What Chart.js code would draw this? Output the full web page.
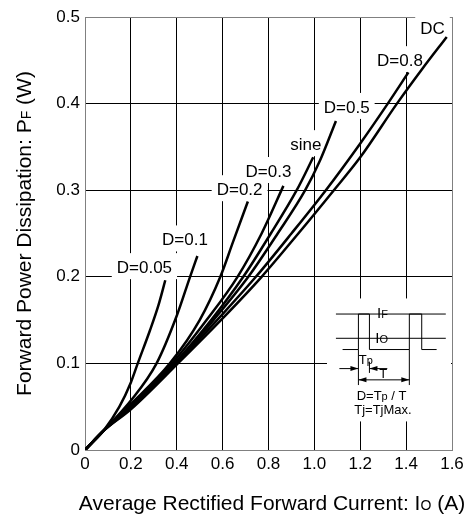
<!DOCTYPE html>
<html>
<head>
<meta charset="utf-8">
<script src="https://cdn.jsdelivr.net/npm/chart.js@4.4.1/dist/chart.umd.min.js"></script>
<style>
  body { margin: 0; background: #fff; }
  canvas { display: block; }
</style>
</head>
<body>
<canvas id="chart" width="472" height="520"></canvas>
<script>
// curve data (Io in A, Pf in W)
const curveNames = ['D=0.05', 'D=0.1', 'D=0.2', 'D=0.3', 'sine', 'D=0.5', 'D=0.8', 'DC'];
const d005X = [0, 0.08, 0.15, 0.2, 0.23, 0.283, 0.32, 0.35];
const d005Y = [0, 0.022, 0.05, 0.078, 0.1, 0.138, 0.167, 0.196];
const d01X = [0, 0.08, 0.2, 0.312, 0.4, 0.458, 0.49];
const d01Y = [0, 0.022, 0.057, 0.1, 0.155, 0.2, 0.224];
const d02X = [0, 0.08, 0.2, 0.37, 0.5, 0.59, 0.645, 0.71];
const d02Y = [0, 0.022, 0.053, 0.1, 0.15, 0.2, 0.24, 0.287];
const d03X = [0, 0.08, 0.2, 0.38, 0.53, 0.665, 0.77, 0.865];
const d03Y = [0, 0.022, 0.051, 0.1, 0.15, 0.2, 0.25, 0.305];
const sineX = [0, 0.08, 0.2, 0.39, 0.55, 0.69, 0.81, 0.923, 0.995];
const sineY = [0, 0.022, 0.05, 0.1, 0.15, 0.2, 0.25, 0.3, 0.338];
const d05X = [0, 0.08, 0.2, 0.395, 0.56, 0.712, 0.84, 0.96, 1.024, 1.094];
const d05Y = [0, 0.022, 0.05, 0.1, 0.15, 0.2, 0.25, 0.3, 0.334, 0.38];
const d08X = [0, 0.08, 0.2, 0.4, 0.6, 0.745, 0.9, 1.05, 1.2, 1.32, 1.41];
const d08Y = [0, 0.022, 0.048, 0.1, 0.157, 0.2, 0.25, 0.3, 0.354, 0.4, 0.436];
const dcX = [0, 0.08, 0.2, 0.405, 0.6, 0.77, 0.93, 1.085, 1.2, 1.36, 1.47, 1.577];
const dcY = [0, 0.022, 0.047, 0.1, 0.152, 0.2, 0.25, 0.3, 0.338, 0.4, 0.44, 0.477];

const xTickLabels = ['0', '0.2', '0.4', '0.6', '0.8', '1.0', '1.2', '1.4', '1.6'];
const yTickLabels = ['0', '0.1', '0.2', '0.3', '0.4', '0.5'];

// where the curve names sit (data units)
const labelX = [0.259, 0.436, 0.674, 0.8, 0.963, 1.141, 1.373, 1.515];
const labelY = [0.21, 0.242, 0.3, 0.321, 0.352, 0.395, 0.449, 0.486];

const FONT = '"Liberation Sans", Arial, sans-serif';
const allX = [d005X, d01X, d02X, d03X, sineX, d05X, d08X, dcX];
const allY = [d005Y, d01Y, d02Y, d03Y, sineY, d05Y, d08Y, dcY];

function toPoints(xs, ys) {
    return xs.map(function(x, i) { return { x: x, y: ys[i] }; });
}

// text with small subscript parts, centred on (cx, cy)
function drawRich(ctx, parts, cx, cy) {
    let total = 0;
    parts.forEach(function(p) {
        ctx.font = p[1] + 'px ' + FONT;
        total += ctx.measureText(p[0]).width;
    });
    let x = cx - total / 2;
    ctx.textAlign = 'left';
    ctx.textBaseline = 'alphabetic';
    parts.forEach(function(p) {
        ctx.font = p[1] + 'px ' + FONT;
        ctx.fillText(p[0], x, cy + (p[2] || 0));
        x += ctx.measureText(p[0]).width;
    });
}

function arrow(ctx, x, y, dir) {
    ctx.beginPath();
    ctx.moveTo(x, y);
    ctx.lineTo(x - dir * 8, y - 2.5);
    ctx.lineTo(x - dir * 8, y + 2.5);
    ctx.closePath();
    ctx.fill();
}

const overlay = {
    id: 'overlay',
    beforeDatasetsDraw: function(chart) {
        const ctx = chart.ctx;
        const xs = chart.scales.x, ys = chart.scales.y;
        const X = function(v) { return xs.getPixelForValue(v); };
        const Y = function(v) { return ys.getPixelForValue(v); };
        ctx.save();

        // white area behind the waveform sketch
        ctx.fillStyle = '#fff';
        ctx.fillRect(X(1.055), Y(0.175), X(1.6) - 1 - X(1.055), Y(0.033) - Y(0.175));

        // curve names on white boxes
        ctx.font = '17px ' + FONT;
        ctx.textAlign = 'center';
        ctx.textBaseline = 'middle';
        curveNames.forEach(function(t, i) {
            const w = ctx.measureText(t).width;
            const cx = X(labelX[i]), cy = Y(labelY[i]);
            ctx.fillStyle = '#fff';
            ctx.fillRect(cx - w / 2 - 5, cy - 15, w + 10, 26);
            ctx.fillStyle = '#000';
            ctx.fillText(t, cx, cy);
        });

        // waveform sketch
        ctx.strokeStyle = '#000';
        ctx.fillStyle = '#000';
        ctx.lineWidth = 1;
        ctx.beginPath();
        ctx.moveTo(X(1.094), Y(0.157)); ctx.lineTo(X(1.573), Y(0.157));
        ctx.moveTo(X(1.094), Y(0.129)); ctx.lineTo(X(1.573), Y(0.129));
        ctx.stroke();

        ctx.beginPath();
        ctx.moveTo(X(1.123), Y(0.116));
        ctx.lineTo(X(1.192), Y(0.116));
        ctx.lineTo(X(1.192), Y(0.157));
        ctx.lineTo(X(1.240), Y(0.157));
        ctx.lineTo(X(1.240), Y(0.116));
        ctx.lineTo(X(1.414), Y(0.116));
        ctx.lineTo(X(1.414), Y(0.157));
        ctx.lineTo(X(1.468), Y(0.157));
        ctx.lineTo(X(1.468), Y(0.116));
        ctx.lineTo(X(1.533), Y(0.116));
        ctx.stroke();

        // dimension lines
        ctx.beginPath();
        ctx.moveTo(X(1.192), Y(0.116)); ctx.lineTo(X(1.192), Y(0.075));
        ctx.moveTo(X(1.240), Y(0.102)); ctx.lineTo(X(1.240), Y(0.089));
        ctx.moveTo(X(1.414), Y(0.116)); ctx.lineTo(X(1.414), Y(0.075));
        ctx.moveTo(X(1.109), Y(0.094)); ctx.lineTo(X(1.192), Y(0.094));
        ctx.moveTo(X(1.240), Y(0.094)); ctx.lineTo(X(1.318), Y(0.094));
        ctx.moveTo(X(1.192), Y(0.081)); ctx.lineTo(X(1.414), Y(0.081));
        ctx.stroke();
        arrow(ctx, X(1.192), Y(0.094), 1);
        arrow(ctx, X(1.240), Y(0.094), -1);
        arrow(ctx, X(1.192), Y(0.081), -1);
        arrow(ctx, X(1.414), Y(0.081), 1);

        drawRich(ctx, [['I', 15], ['F', 11]], X(1.297), Y(0.152));
        drawRich(ctx, [['I', 15], ['O', 11]], X(1.293), Y(0.124));
        drawRich(ctx, [['T', 13], ['p', 11]], X(1.224), Y(0.099));
        drawRich(ctx, [['T', 13]], X(1.3), Y(0.083));
        drawRich(ctx, [['D=T', 13], ['p', 11], [' / T', 13]], X(1.293), Y(0.058));
        drawRich(ctx, [['Tj=TjMax.', 13]], X(1.299), Y(0.041));

        ctx.restore();
    },
    afterDraw: function(chart) {
        const ctx = chart.ctx;
        const area = chart.chartArea;
        ctx.save();
        ctx.fillStyle = '#000';
        // y axis title
        ctx.translate(31, (area.top + area.bottom) / 2);
        ctx.rotate(-Math.PI / 2);
        drawRich(ctx, [['Forward Power Dissipation: P', 21], ['F', 14], [' (W)', 21]], 0, 0);
        ctx.restore();
        ctx.save();
        ctx.fillStyle = '#000';
        drawRich(ctx, [['Average Rectified Forward Current: I', 21], ['O', 14], [' (A)', 21]], 272, 510);
        ctx.restore();
    }
};

const ctx = document.getElementById('chart').getContext('2d');
const myChart = new Chart(ctx, {
    type: 'line',
    data: {
        datasets: curveNames.map(function(name, i) {
            return {
                label: name,
                data: toPoints(allX[i], allY[i]),
                borderColor: '#000',
                borderWidth: 2.5,
                pointRadius: 0,
                fill: false,
                cubicInterpolationMode: 'monotone'
            };
        })
    },
    options: {
        responsive: false,
        animation: false,
        layout: { padding: { top: 17, right: 20, left: 0, bottom: 0 } },
        plugins: { legend: { display: false }, tooltip: { enabled: false } },
        scales: {
            x: {
                type: 'linear',
                min: 0,
                max: 1.6,
                ticks: {
                    stepSize: 0.2,
                    autoSkip: false,
                    maxRotation: 0,
                    padding: 4,
                    color: '#000',
                    font: { size: 17, family: FONT },
                    callback: function(v, i) { return xTickLabels[i]; }
                },
                grid: {
                    drawTicks: false,
                    lineWidth: 1,
                    color: function(c) { return Math.abs(c.tick.value - 1.6) < 1e-6 ? '#808080' : '#000'; }
                },
                border: { color: '#808080', width: 1 },
                afterFit: function(s) { s.height = 70; }
            },
            y: {
                type: 'linear',
                min: 0,
                max: 0.5,
                ticks: {
                    stepSize: 0.1,
                    padding: 5,
                    color: '#000',
                    font: { size: 17, family: FONT },
                    callback: function(v, i) { return yTickLabels[i]; }
                },
                grid: {
                    drawTicks: false,
                    lineWidth: 1,
                    color: function(c) { return Math.abs(c.tick.value - 0.5) < 1e-6 ? '#808080' : '#000'; }
                },
                border: { color: '#808080', width: 1 },
                afterFit: function(s) { s.width = 85; }
            }
        }
    },
    plugins: [overlay]
});
</script>
</body>
</html>
